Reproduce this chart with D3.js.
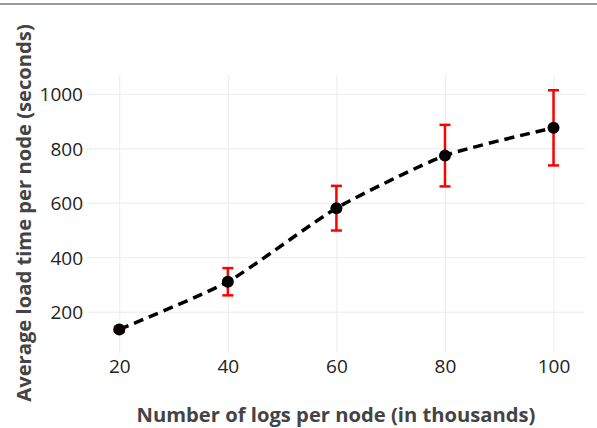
<!DOCTYPE html>
<html><head><meta charset="utf-8">
<script src="https://cdn.jsdelivr.net/npm/d3@7"></script>
<style>
html,body{margin:0;padding:0;background:#fff;}
svg{display:block;font-family:"Open Sans",sans-serif;}
</style></head>
<body>
<svg id="chart" width="597" height="428"></svg>
<script>
const logs = [20, 40, 60, 80, 100];
const loadTime = [135, 310, 580, 773, 875];
const errorHalf = [8, 50, 82, 113, 138];
const xTicks = [20, 40, 60, 80, 100];
const yTicks = [200, 400, 600, 800, 1000];
const xTitle = "Number of logs per node (in thousands)";
const yTitle = "Average load time per node (seconds)";

const svg = d3.select("#chart");
const pLeft = 87, pRight = 585, pTop = 75, pBottom = 352;
const x = d3.scaleLinear().domain([14.05, 105.8]).range([pLeft, pRight]);
const y = d3.scaleLinear().domain([52, 1069]).range([pBottom, pTop]);

svg.append("line").attr("x1", 0).attr("x2", 597).attr("y1", 4).attr("y2", 4)
  .attr("stroke", "#777").attr("stroke-width", 1.5);

// gridlines
const xg = svg.append("g").attr("transform", `translate(0,${pBottom})`)
  .call(d3.axisBottom(x).tickValues(xTicks).tickSize(-(pBottom - pTop)).tickFormat(""));
const yg = svg.append("g").attr("transform", `translate(${pLeft},0)`)
  .call(d3.axisLeft(y).tickValues(yTicks).tickSize(-(pRight - pLeft)).tickFormat(""));
[xg, yg].forEach(g => {
  g.select(".domain").remove();
  g.selectAll(".tick line").attr("stroke", "#ebebeb").attr("stroke-width", 1);
});

// tick labels
const xl = svg.append("g").attr("transform", `translate(0,${pBottom})`)
  .call(d3.axisBottom(x).tickValues(xTicks).tickFormat(d3.format("d")).tickSize(0).tickPadding(8));
const yl = svg.append("g").attr("transform", `translate(${pLeft},0)`)
  .call(d3.axisLeft(y).tickValues(yTicks).tickFormat(d3.format("d")).tickSize(0).tickPadding(4));
[xl, yl].forEach(g => {
  g.select(".domain").remove();
  g.selectAll("text").attr("font-size", 19).attr("fill", "#222")
    .attr("font-family", "'Open Sans', sans-serif");
});
yl.selectAll("text").attr("dy", "0.36em");
xl.selectAll("text").attr("dy", "0.68em");

// line
const data = logs.map((d, i) => ({x: d, y: loadTime[i], e: errorHalf[i]}));
svg.append("path").datum(data)
  .attr("d", d3.line().x(d => x(d.x)).y(d => y(d.y)).curve(d3.curveCardinal.tension(0.4)))
  .attr("fill", "none").attr("stroke", "#000").attr("stroke-width", 3.5)
  .attr("stroke-dasharray", "10,6");

// error bars
const eb = svg.append("g").attr("stroke", "#ff0000").attr("stroke-width", 2.5);
data.forEach(d => {
  const cx = x(d.x);
  eb.append("line").attr("x1", cx).attr("x2", cx).attr("y1", y(d.y - d.e)).attr("y2", y(d.y + d.e));
  eb.append("line").attr("x1", cx - 5.5).attr("x2", cx + 5.5).attr("y1", y(d.y + d.e)).attr("y2", y(d.y + d.e));
  eb.append("line").attr("x1", cx - 5.5).attr("x2", cx + 5.5).attr("y1", y(d.y - d.e)).attr("y2", y(d.y - d.e));
});

// points
svg.append("g").selectAll("circle").data(data).join("circle")
  .attr("cx", d => x(d.x)).attr("cy", d => y(d.y)).attr("r", 6).attr("fill", "#000");

// titles
svg.append("text").attr("x", 336).attr("y", 421.5).attr("text-anchor", "middle")
  .attr("font-size", 20.2).attr("font-weight", "bold").attr("fill", "#444").text(xTitle);
svg.append("text").attr("transform", "translate(31,213) rotate(-90)").attr("text-anchor", "middle")
  .attr("font-size", 20.2).attr("font-weight", "bold").attr("fill", "#444").text(yTitle);
</script>
</body></html>
